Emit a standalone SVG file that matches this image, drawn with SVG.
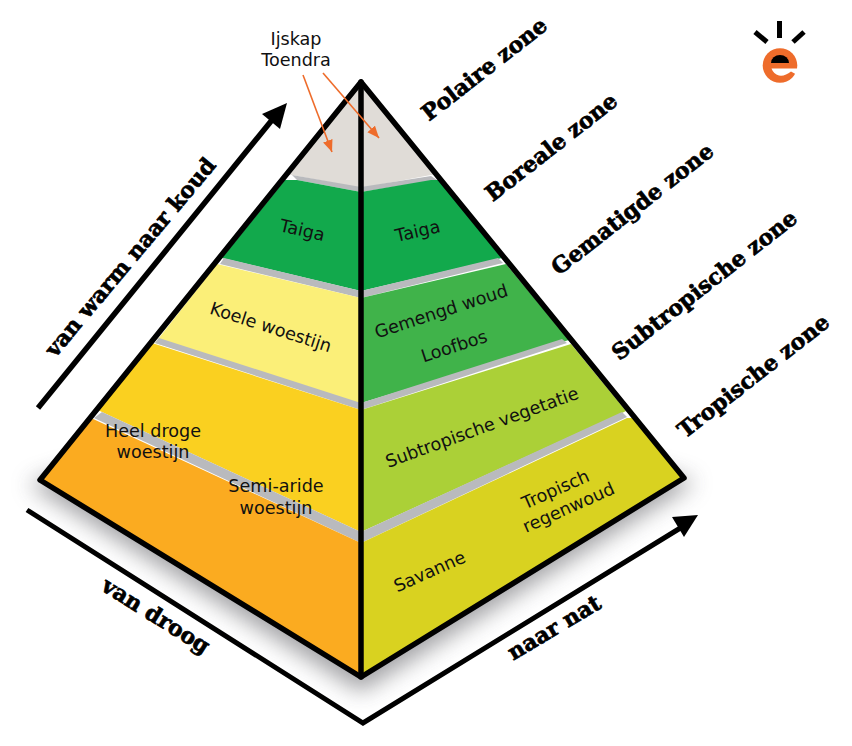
<svg xmlns="http://www.w3.org/2000/svg" width="852" height="746" viewBox="0 0 852 746">
<style>
.l{font-family:"DejaVu Sans",Verdana,sans-serif;font-size:17.6px;fill:#111;text-anchor:middle}
.z{font-family:"DejaVu Serif","Liberation Serif",serif;font-weight:bold;fill:#000;stroke:#000;stroke-width:.7;text-anchor:middle;font-size:22px}
.g{fill:#b9babd}
.e{fill:none;stroke:#000;stroke-width:5.5;stroke-linejoin:round;stroke-linecap:round}
.o{stroke:#ee6c2b;stroke-width:1.6;fill:none;marker-end:url(#oa)}
</style>
<defs>
<filter id="blur" x="-20%" y="-40%" width="140%" height="180%"><feGaussianBlur stdDeviation="11"/></filter>
<marker id="oa" markerUnits="userSpaceOnUse" markerWidth="14" markerHeight="12" refX="12" refY="5" orient="auto"><path d="M0 0L12 5L0 10z" fill="#ee6c2b"/></marker>
</defs>
<rect width="852" height="746" fill="#fff"/>
<polygon id="shadow" points="70,470 361,470 654,470 696,482 361,692 28,484" fill="#6a6a70" opacity=".62" filter="url(#blur)"/>
<polygon points="361,82 40,480 361,677 684,478" fill="#fff"/>
<g id="left-face">
<polygon id="l-ice" points="361,82 288,175 292,175 361,188" fill="#e0dcd7"/>
<polygon class="g" points="292,175 361,187 361,192 297,180"/>
<polygon id="l-taiga" points="285,180 297,180 361,192 361,291 222,258" fill="#12a94c"/>
<polygon class="g" points="224,258 361,291 361,298 220,264"/>
<polygon id="l-koel" points="217,264 361,298 361,405 155,343" fill="#fbef78"/>
<polygon class="g" points="159,338 361,403 361,410 155,343"/>
<polygon id="l-semi" points="152,343 361,410 361,532 102,412 98,410" fill="#fad020"/>
<polygon class="g" points="102,412 361,532 361,543 94,418"/>
<polygon id="l-droog" points="91,418 361,543 361,677 40,480" fill="#fbab20"/>
</g>
<g id="right-face">
<polygon id="r-ice" points="361,82 435,175 431,175 361,188" fill="#e0dcd7"/>
<polygon class="g" points="361,187 431,176 437,180 361,192"/>
<polygon id="r-taiga" points="361,192 431,180 440,180 502,258 361,291" fill="#12a94c"/>
<polygon class="g" points="361,291 498,258 503,263 361,298"/>
<polygon id="r-gematigd" points="361,298 506,264 569,340 361,403" fill="#40b34a"/>
<polygon class="g" points="361,403 562,339 567,343 361,410"/>
<polygon id="r-subtrop" points="361,410 571,344 626,411 622,413 361,532" fill="#abd037"/>
<polygon class="g" points="361,532 622,412 627,417 361,543"/>
<polygon id="r-trop" points="361,543 627,418 632,418 684,478 361,677" fill="#d9d220"/>
</g>
<g id="connectors">
<polygon class="e" points="361,82 40,480 361,677 684,478" />
<line class="e" x1="361" y1="82" x2="361" y2="677"/>
<path d="M27 510L363 723L682 527" fill="none" stroke="#000" stroke-width="5"/>
<polygon points="698,515 672,517 684,537" fill="#000"/>
<line x1="38" y1="408" x2="272" y2="120" stroke="#000" stroke-width="5.5"/>
<polygon points="287,103 262,114 280,129" fill="#000"/>
<line class="o" x1="303" y1="75" x2="332" y2="152"/>
<line class="o" x1="323" y1="73" x2="379" y2="138"/>
</g>
<g id="logo">
<rect x="777" y="21" width="5" height="17" fill="#000"/>
<line x1="755" y1="32" x2="767" y2="42" stroke="#000" stroke-width="5"/>
<line x1="804" y1="32" x2="793" y2="42" stroke="#000" stroke-width="5"/>
<circle cx="780" cy="65.5" r="17.3" fill="#ee6c2b"/>
<path d="M771 63a9 8 0 0 1 18 0z" fill="#000"/>
<path d="M771.5 68.5H799V76L791 71.5Q785 76.5 779 75.5Q773.5 74 771.5 68.5z" fill="#fff"/>
</g>
<g id="zones">
<text class="z" transform="translate(489,75) rotate(-38)">Polaire zone</text>
<text class="z" transform="translate(556,153) rotate(-38)">Boreale zone</text>
<text class="z" transform="translate(637,215) rotate(-38)">Gematigde zone</text>
<text class="z" transform="translate(709,291) rotate(-38)">Subtropische zone</text>
<text class="z" transform="translate(758,382) rotate(-38)">Tropische zone</text>
<text class="z" transform="translate(136,262) rotate(-50)">van warm naar koud</text>
<text class="z" transform="translate(152,622) rotate(32)">van droog</text>
<text class="z" transform="translate(558,634) rotate(-31)">naar nat</text>
</g>
<g id="labels">
<text class="l" x="296" y="45">Ijskap</text>
<text class="l" x="296" y="66">Toendra</text>
<text class="l" transform="translate(301,236) rotate(13)">Taiga</text>
<text class="l" transform="translate(419,237) rotate(-13)">Taiga</text>
<text class="l" transform="translate(269,333) rotate(18)">Koele woestijn</text>
<text class="l" transform="translate(443,317) rotate(-18)">Gemengd woud</text>
<text class="l" transform="translate(456,352) rotate(-18)">Loofbos</text>
<text class="l" transform="translate(484,433) rotate(-20)">Subtropische vegetatie</text>
<text class="l" x="153" y="437">Heel droge</text>
<text class="l" x="153" y="458">woestijn</text>
<text class="l" x="276" y="492">Semi-aride</text>
<text class="l" x="276" y="514">woestijn</text>
<text class="l" transform="translate(432,577) rotate(-24)">Savanne</text>
<text class="l" transform="translate(558,495) rotate(-24)">Tropisch</text>
<text class="l" transform="translate(571,513) rotate(-24)">regenwoud</text>
</g>
</svg>
